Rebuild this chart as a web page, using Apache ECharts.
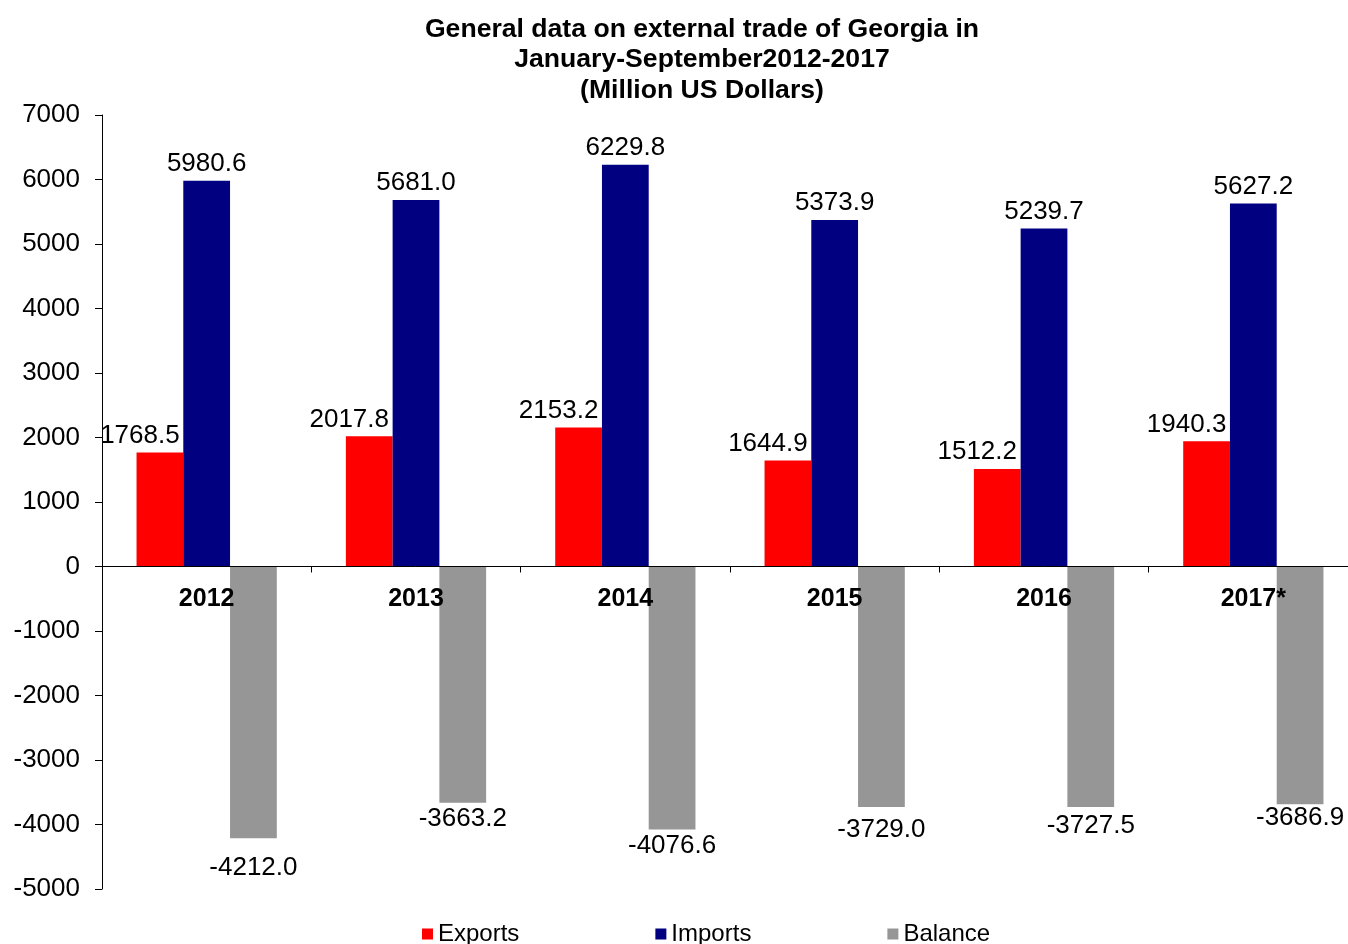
<!DOCTYPE html>
<html>
<head>
<meta charset="utf-8">
<script src="https://cdn.jsdelivr.net/npm/echarts@6/dist/echarts.min.js"></script>
<style>
html,body{margin:0;padding:0;background:#fff;overflow:hidden;}
#chart{width:1362px;height:944px;}
</style>
</head>
<body>
<div id="chart"></div>
<script>
const categories = ['2012', '2013', '2014', '2015', '2016', '2017*'];
const exportsData = [1768.5, 2017.8, 2153.2, 1644.9, 1512.2, 1940.3];
const importsData = [5980.6, 5681.0, 6229.8, 5373.9, 5239.7, 5627.2];
const balanceData = [-4212.0, -3663.2, -4076.6, -3729.0, -3727.5, -3686.9];
const yTicks = [-5000, -4000, -3000, -2000, -1000, 0, 1000, 2000, 3000, 4000, 5000, 6000, 7000];

const FONT = '"Liberation Sans", Arial, sans-serif';
const balanceLabelDistance = [17, 3, 3, 10, 6, 1];

const GRID_TOP = 115, GRID_H = 774;
const yMin = yTicks[0], yMax = yTicks[yTicks.length - 1];
// x axis sits on the zero line: shift it up from the grid bottom
const zeroOffset = -GRID_H * (0 - yMin) / (yMax - yMin);

const chart = echarts.init(document.getElementById('chart'));
const labelBase = {
  show: true,
  color: '#000',
  fontFamily: FONT,
  fontSize: 26,
  formatter: p => p.value.toFixed(1)
};
chart.setOption({
  animation: false,
  backgroundColor: '#fff',
  title: {
    text: 'General data on external trade of Georgia in\nJanuary-September2012-2017\n(Million US Dollars)',
    left: 697,
    textAlign: 'center',
    top: 9,
    textStyle: {fontFamily: FONT, fontSize: 26.6, fontWeight: 'bold', color: '#000', lineHeight: 30.5}
  },
  legend: {
    top: 917,
    left: 417,
    itemWidth: 11,
    itemHeight: 11,
    itemGap: 136,
    icon: 'rect',
    textStyle: {fontFamily: FONT, fontSize: 24, color: '#000'},
    data: ['Exports', 'Imports', 'Balance']
  },
  grid: {left: 102, top: GRID_TOP, width: 1256, height: GRID_H, containLabel: false},
  xAxis: {
    type: 'category',
    data: categories,
    offset: zeroOffset,
    z: 5,
    axisLine: {onZero: false, lineStyle: {color: '#000', width: 1}},
    axisTick: {show: true, length: 6, lineStyle: {color: '#000'}},
    axisLabel: {fontFamily: FONT, fontSize: 25, fontWeight: 'bold', color: '#000', margin: 20}
  },
  yAxis: {
    type: 'value',
    min: yMin,
    max: yMax,
    interval: 1000,
    axisLine: {show: true, lineStyle: {color: '#000'}},
    axisTick: {show: true, length: 7, lineStyle: {color: '#000'}},
    splitLine: {show: false},
    axisLabel: {fontFamily: FONT, fontSize: 26, color: '#000', margin: 22, formatter: v => String(v)}
  },
  series: [
    {
      name: 'Exports', type: 'bar', data: exportsData, barGap: '0%', barCategoryGap: '33%',
      itemStyle: {color: '#FF0000'},
      label: Object.assign({}, labelBase, {position: 'top', distance: 4, offset: [-20, 0]})
    },
    {
      name: 'Imports', type: 'bar', data: importsData, barGap: '0%', barCategoryGap: '33%',
      itemStyle: {color: '#000080'},
      label: Object.assign({}, labelBase, {position: 'top', distance: 4})
    },
    {
      name: 'Balance', type: 'bar', barGap: '0%', barCategoryGap: '33%',
      data: balanceData.map((v, i) => ({value: v, label: {distance: balanceLabelDistance[i]}})),
      itemStyle: {color: '#969696'},
      label: Object.assign({}, labelBase, {position: 'bottom'})
    }
  ]
});
</script>
</body>
</html>
